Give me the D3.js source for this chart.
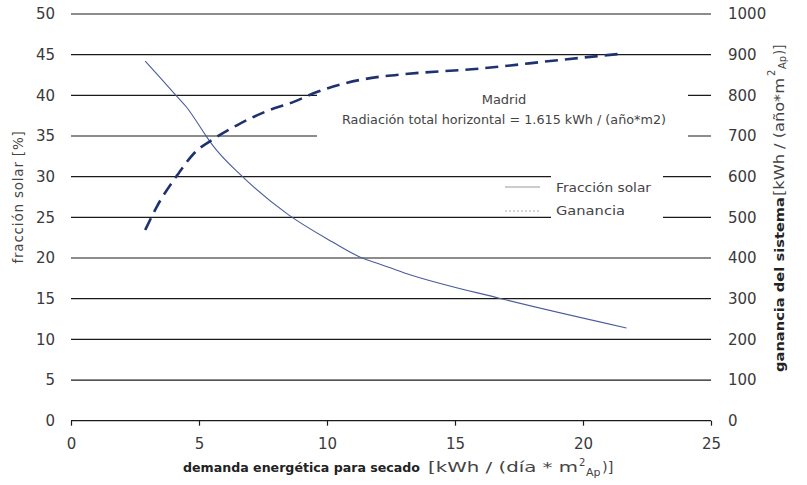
<!DOCTYPE html>
<html><head><meta charset="utf-8">
<script src="https://cdn.jsdelivr.net/npm/d3@7"></script>
<style>body{margin:0;background:#fff;} svg{display:block;} text{font-family:"DejaVu Sans",sans-serif;}</style>
</head><body><svg id="c" width="807" height="485"></svg>
<script>
const xTicks = [0,5,10,15,20,25];
const yLeftTicks = [0,5,10,15,20,25,30,35,40,45,50];
const yRightTicks = [0,100,200,300,400,500,600,700,800,900,1000];
// Fracción solar [%] vs demanda
const solarX = [2.9,4.1,4.5,5.3,5.5,6.7,8.5,10.2,11.3,12.1,13.0,16.8,21.7];
const solarY = [44.2,40.0,38.6,34.9,34.0,30.0,25.3,22.0,20.1,19.2,18.2,15.0,11.4];
// Ganancia del sistema [kWh/(año*m2)] vs demanda
const ganX = [2.9,3.35,4.2,4.8,5.6,6.5,7.6,8.7,9.6,11.3,12.1,13.0,16.0,19.1,21.6];
const ganY = [469,526,608,657,694,727,760,784,808,838,846,852,866,887,903];

const svg = d3.select("#c");
const x = d3.scaleLinear().domain([0,25]).range([71,711]);
const yL = d3.scaleLinear().domain([0,50]).range([420.7,14]);
const yR = d3.scaleLinear().domain([0,1000]).range([420.7,14]);

// gridlines
svg.append("g").selectAll("line").data(yLeftTicks).join("line")
  .attr("x1",x(0)).attr("x2",x(25)).attr("y1",d=>yL(d)).attr("y2",d=>yL(d))
  .attr("stroke","#1a1a1a").attr("stroke-width",1.2);

// x axis ticks
const xAxis = d3.axisBottom(x).tickValues(xTicks).tickSize(5).tickFormat(d3.format("d"));
const gx = svg.append("g").attr("transform","translate(0,420.7)").call(xAxis);
gx.select(".domain").remove();
gx.selectAll(".tick line").attr("stroke","#1a1a1a").attr("stroke-width",1.2);
gx.selectAll(".tick text").attr("y",null).attr("dy",null).attr("transform","translate(0,28.5)")
  .attr("font-size",15).attr("fill","#3a3a3a").attr("font-family","DejaVu Sans");

// left y axis labels
const gl = svg.append("g").attr("transform","translate(55,0)")
  .call(d3.axisLeft(yL).tickValues(yLeftTicks).tickSize(0).tickPadding(0).tickFormat(d3.format("d")));
gl.select(".domain").remove();
gl.selectAll(".tick text").attr("font-size",15).attr("fill","#3a3a3a").attr("font-family","DejaVu Sans");

// right y axis labels
const gr = svg.append("g").attr("transform","translate(728,0)")
  .call(d3.axisRight(yR).tickValues(yRightTicks).tickSize(0).tickPadding(0).tickFormat(d3.format("d")));
gr.select(".domain").remove();
gr.selectAll(".tick text").attr("font-size",15).attr("fill","#3a3a3a").attr("font-family","DejaVu Sans");

// annotation / legend backgrounds
svg.append("rect").attr("x",317).attr("y",84).attr("width",371).attr("height",58).attr("fill","#fff");
svg.append("rect").attr("x",551).attr("y",168).attr("width",112).attr("height",56).attr("fill","#fff");

// lines
const solarData = solarX.map((v,i)=>[v,solarY[i]]);
const ganData = ganX.map((v,i)=>[v,ganY[i]]);
svg.append("path").datum(solarData)
  .attr("d",d3.line().x(d=>x(d[0])).y(d=>yL(d[1])).curve(d3.curveMonotoneX))
  .attr("fill","none").attr("stroke","#4a5c9c").attr("stroke-width",1.1);
svg.append("path").datum(ganData)
  .attr("d",d3.line().x(d=>x(d[0])).y(d=>yR(d[1])).curve(d3.curveMonotoneX))
  .attr("fill","none").attr("stroke","#1f3270").attr("stroke-width",2.6).attr("stroke-dasharray","13,7");

// annotation text
svg.append("text").attr("x",504).attr("y",104).attr("text-anchor","middle")
  .attr("font-size",13).attr("fill","#444").text("Madrid");
svg.append("text").attr("x",504).attr("y",124).attr("text-anchor","middle")
  .attr("font-size",13).attr("fill","#444").attr("textLength",324).attr("lengthAdjust","spacingAndGlyphs")
  .text("Radiación total horizontal = 1.615 kWh / (año*m2)");

// legend
svg.append("line").attr("x1",505).attr("x2",540).attr("y1",187).attr("y2",187).attr("stroke","#999").attr("stroke-width",1);
svg.append("line").attr("x1",505).attr("x2",540).attr("y1",211).attr("y2",211).attr("stroke","#aaa").attr("stroke-width",1).attr("stroke-dasharray","2,2");
svg.append("text").attr("x",556).attr("y",192).attr("font-size",13).attr("fill","#444").attr("textLength",95).attr("lengthAdjust","spacingAndGlyphs").text("Fracción solar");
svg.append("text").attr("x",556).attr("y",215).attr("font-size",13).attr("fill","#444").attr("textLength",69).attr("lengthAdjust","spacingAndGlyphs").text("Ganancia");

// left title
svg.append("text").attr("transform","translate(23,197) rotate(-90)").attr("text-anchor","middle")
  .attr("font-size",13.5).attr("fill","#444").attr("letter-spacing",0.8).text("fracción solar [%]");

// x title
const xg = svg.append("g");
xg.append("text").attr("x",183).attr("y",472).attr("fill","#222").attr("font-size",13)
  .attr("font-weight","bold").attr("textLength",237).attr("lengthAdjust","spacingAndGlyphs")
  .text("demanda energética para secado");
xg.append("text").attr("x",428).attr("y",472).attr("fill","#444").attr("font-size",14.5)
  .attr("textLength",150).attr("lengthAdjust","spacingAndGlyphs").text("[kWh / (día * m");
xg.append("text").attr("x",579).attr("y",466).attr("fill","#444").attr("font-size",10).text("2");
xg.append("text").attr("x",586).attr("y",476).attr("fill","#444").attr("font-size",11).text("Ap");
xg.append("text").attr("x",602).attr("y",472).attr("fill","#444").attr("font-size",14.5).text(")]");

// right title
const rg = svg.append("g").attr("transform","translate(784,372) rotate(-90)");
rg.append("text").attr("x",0).attr("y",0).attr("fill","#222").attr("font-size",12.5)
  .attr("font-weight","bold").attr("textLength",175).attr("lengthAdjust","spacingAndGlyphs")
  .text("ganancia del sistema");
rg.append("text").attr("x",176).attr("y",0).attr("fill","#444").attr("font-size",13.5)
  .attr("textLength",118).attr("lengthAdjust","spacingAndGlyphs").text("[kWh / (año*m");
rg.append("text").attr("x",296).attr("y",-9).attr("fill","#444").attr("font-size",10).text("2");
rg.append("text").attr("x",303).attr("y",2).attr("fill","#444").attr("font-size",10).text("Ap");
rg.append("text").attr("x",317).attr("y",0).attr("fill","#444").attr("font-size",13.5).text(")]");
</script></body></html>
